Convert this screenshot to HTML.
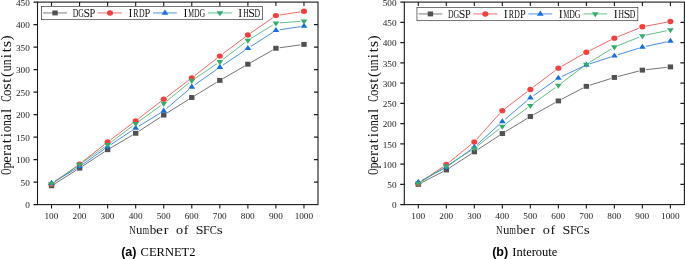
<!DOCTYPE html>
<html><head><meta charset="utf-8"><title>fig</title>
<style>html,body{margin:0;padding:0;background:#fff;}svg{display:block;will-change:transform;}</style></head>
<body>
<svg width="685" height="259" viewBox="0 0 685 259" font-family="Liberation Serif, serif">
<rect width="685" height="259" fill="#fff"/>
<path d="M54.66,183.82L76.44,170.12 M82.67,166.12L104.53,151.73 M110.82,147.83L132.48,135.14 M138.78,131.26L160.62,117.07 M166.86,113.09L188.64,99.46 M194.93,95.57L216.67,82.33 M223.03,78.55L244.67,66.05 M251.09,62.37L272.71,50.10 M279.59,47.76L300.31,44.91" fill="none" stroke="#515151" stroke-width="0.8"/>
<rect x="48.82" y="183.34" width="5.4" height="4.9" fill="#515151"/>
<rect x="76.87" y="165.70" width="5.4" height="4.9" fill="#515151"/>
<rect x="104.92" y="147.25" width="5.4" height="4.9" fill="#515151"/>
<rect x="132.98" y="130.82" width="5.4" height="4.9" fill="#515151"/>
<rect x="161.03" y="112.60" width="5.4" height="4.9" fill="#515151"/>
<rect x="189.08" y="95.05" width="5.4" height="4.9" fill="#515151"/>
<rect x="217.13" y="77.95" width="5.4" height="4.9" fill="#515151"/>
<rect x="245.18" y="61.75" width="5.4" height="4.9" fill="#515151"/>
<rect x="273.22" y="45.82" width="5.4" height="4.9" fill="#515151"/>
<rect x="301.27" y="41.95" width="5.4" height="4.9" fill="#515151"/>
<path d="M54.52,182.18L76.58,166.27 M82.48,161.81L104.72,144.34 M110.58,139.82L132.72,123.13 M138.61,118.64L160.79,101.56 M166.67,97.06L188.83,80.17 M194.70,75.65L216.90,58.37 M222.78,53.87L244.92,37.18 M250.92,32.85L272.88,17.70 M279.58,15.04L300.32,11.88" fill="none" stroke="#F14040" stroke-width="0.8"/>
<ellipse cx="51.52" cy="184.35" rx="3.05" ry="2.7" fill="#F14040"/>
<ellipse cx="79.57" cy="164.10" rx="3.05" ry="2.7" fill="#F14040"/>
<ellipse cx="107.62" cy="142.05" rx="3.05" ry="2.7" fill="#F14040"/>
<ellipse cx="135.68" cy="120.90" rx="3.05" ry="2.7" fill="#F14040"/>
<ellipse cx="163.73" cy="99.30" rx="3.05" ry="2.7" fill="#F14040"/>
<ellipse cx="191.78" cy="77.92" rx="3.05" ry="2.7" fill="#F14040"/>
<ellipse cx="219.83" cy="56.10" rx="3.05" ry="2.7" fill="#F14040"/>
<ellipse cx="247.88" cy="34.95" rx="3.05" ry="2.7" fill="#F14040"/>
<ellipse cx="275.92" cy="15.60" rx="3.05" ry="2.7" fill="#F14040"/>
<ellipse cx="303.97" cy="11.32" rx="3.05" ry="2.7" fill="#F14040"/>
<path d="M54.71,181.30L76.39,168.46 M82.60,164.44L104.60,148.91 M110.70,144.72L132.60,130.15 M138.83,126.17L160.57,112.93 M166.53,108.59L188.97,89.38 M194.80,84.84L216.80,69.35 M222.90,65.15L244.80,50.47 M250.99,46.40L272.81,32.36 M279.58,29.80L300.32,26.64" fill="none" stroke="#1A6FDF" stroke-width="0.8"/>
<polygon points="48.12,184.88 54.92,184.88 51.52,179.78" fill="#1A6FDF"/>
<polygon points="76.17,168.27 82.97,168.27 79.57,163.17" fill="#1A6FDF"/>
<polygon points="104.22,148.47 111.03,148.47 107.62,143.37" fill="#1A6FDF"/>
<polygon points="132.28,129.80 139.08,129.80 135.68,124.70" fill="#1A6FDF"/>
<polygon points="160.33,112.70 167.13,112.70 163.73,107.60" fill="#1A6FDF"/>
<polygon points="188.38,88.67 195.18,88.67 191.78,83.57" fill="#1A6FDF"/>
<polygon points="216.43,68.91 223.23,68.91 219.83,63.81" fill="#1A6FDF"/>
<polygon points="244.47,50.10 251.28,50.10 247.88,45.00" fill="#1A6FDF"/>
<polygon points="272.52,32.06 279.32,32.06 275.92,26.96" fill="#1A6FDF"/>
<polygon points="300.57,27.79 307.37,27.79 303.97,22.69" fill="#1A6FDF"/>
<path d="M54.58,181.59L76.52,166.63 M82.60,162.42L104.60,146.88 M110.58,142.52L132.72,125.83 M138.69,121.45L160.71,105.72 M166.59,101.23L188.91,82.97 M194.85,78.56L216.75,63.83 M222.77,59.52L244.93,42.60 M251.03,38.41L272.77,25.05 M279.62,22.85L300.28,21.40" fill="none" stroke="#37AD6B" stroke-width="0.8"/>
<polygon points="48.12,181.97 54.92,181.97 51.52,187.07" fill="#37AD6B"/>
<polygon points="76.17,162.85 82.97,162.85 79.57,167.95" fill="#37AD6B"/>
<polygon points="104.22,143.05 111.03,143.05 107.62,148.15" fill="#37AD6B"/>
<polygon points="132.28,121.90 139.08,121.90 135.68,127.00" fill="#37AD6B"/>
<polygon points="160.33,101.87 167.13,101.87 163.73,106.97" fill="#37AD6B"/>
<polygon points="188.38,78.92 195.18,78.92 191.78,84.02" fill="#37AD6B"/>
<polygon points="216.43,60.07 223.23,60.07 219.83,65.17" fill="#37AD6B"/>
<polygon points="244.47,38.65 251.28,38.65 247.88,43.75" fill="#37AD6B"/>
<polygon points="272.52,21.41 279.32,21.41 275.92,26.51" fill="#37AD6B"/>
<polygon points="300.57,19.43 307.37,19.43 303.97,24.53" fill="#37AD6B"/>
<rect x="37.5" y="2.1" width="280.5" height="202.5" fill="none" stroke="#1a1a1a" stroke-width="1.1"/>
<path d="M51.52,204.6v4.0 M51.52,2.1v4.0 M79.57,204.6v4.0 M79.57,2.1v4.0 M107.62,204.6v4.0 M107.62,2.1v4.0 M135.68,204.6v4.0 M135.68,2.1v4.0 M163.73,204.6v4.0 M163.73,2.1v4.0 M191.78,204.6v4.0 M191.78,2.1v4.0 M219.83,204.6v4.0 M219.83,2.1v4.0 M247.88,204.6v4.0 M247.88,2.1v4.0 M275.92,204.6v4.0 M275.92,2.1v4.0 M303.97,204.6v4.0 M303.97,2.1v4.0 M37.5,204.60h-4.0 M37.5,182.10h-4.0 M318.0,182.10h-4.0 M37.5,159.60h-4.0 M318.0,159.60h-4.0 M37.5,137.10h-4.0 M318.0,137.10h-4.0 M37.5,114.60h-4.0 M318.0,114.60h-4.0 M37.5,92.10h-4.0 M318.0,92.10h-4.0 M37.5,69.60h-4.0 M318.0,69.60h-4.0 M37.5,47.10h-4.0 M318.0,47.10h-4.0 M37.5,24.60h-4.0 M318.0,24.60h-4.0 M37.5,2.10h-4.0" stroke="#1a1a1a" stroke-width="1.1" fill="none"/>
<text transform="translate(51.42,219.15) scale(1,0.915)" text-anchor="middle" font-size="9.25" fill="#1a1a1a">100</text>
<text transform="translate(79.47,219.15) scale(1,0.915)" text-anchor="middle" font-size="9.25" fill="#1a1a1a">200</text>
<text transform="translate(107.53,219.15) scale(1,0.915)" text-anchor="middle" font-size="9.25" fill="#1a1a1a">300</text>
<text transform="translate(135.58,219.15) scale(1,0.915)" text-anchor="middle" font-size="9.25" fill="#1a1a1a">400</text>
<text transform="translate(163.63,219.15) scale(1,0.915)" text-anchor="middle" font-size="9.25" fill="#1a1a1a">500</text>
<text transform="translate(191.68,219.15) scale(1,0.915)" text-anchor="middle" font-size="9.25" fill="#1a1a1a">600</text>
<text transform="translate(219.73,219.15) scale(1,0.915)" text-anchor="middle" font-size="9.25" fill="#1a1a1a">700</text>
<text transform="translate(247.78,219.15) scale(1,0.915)" text-anchor="middle" font-size="9.25" fill="#1a1a1a">800</text>
<text transform="translate(275.82,219.15) scale(1,0.915)" text-anchor="middle" font-size="9.25" fill="#1a1a1a">900</text>
<text transform="translate(303.87,219.15) scale(1,0.915)" text-anchor="middle" font-size="9.25" fill="#1a1a1a">1000</text>
<text transform="translate(29.80,208.35) scale(1,0.915)" text-anchor="end" font-size="9.25" fill="#1a1a1a">0</text>
<text transform="translate(29.80,185.85) scale(1,0.915)" text-anchor="end" font-size="9.25" fill="#1a1a1a">50</text>
<text transform="translate(29.80,163.35) scale(1,0.915)" text-anchor="end" font-size="9.25" fill="#1a1a1a">100</text>
<text transform="translate(29.80,140.85) scale(1,0.915)" text-anchor="end" font-size="9.25" fill="#1a1a1a">150</text>
<text transform="translate(29.80,118.35) scale(1,0.915)" text-anchor="end" font-size="9.25" fill="#1a1a1a">200</text>
<text transform="translate(29.80,95.85) scale(1,0.915)" text-anchor="end" font-size="9.25" fill="#1a1a1a">250</text>
<text transform="translate(29.80,73.35) scale(1,0.915)" text-anchor="end" font-size="9.25" fill="#1a1a1a">300</text>
<text transform="translate(29.80,50.85) scale(1,0.915)" text-anchor="end" font-size="9.25" fill="#1a1a1a">350</text>
<text transform="translate(29.80,28.35) scale(1,0.915)" text-anchor="end" font-size="9.25" fill="#1a1a1a">400</text>
<text transform="translate(29.80,5.85) scale(1,0.915)" text-anchor="end" font-size="9.25" fill="#1a1a1a">450</text>
<text transform="translate(129.28,234.30) scale(0.698,1.000)" font-size="12.9" fill="#111">N</text>
<text transform="translate(136.09,234.30) scale(0.998,1.000)" font-size="12.9" fill="#111">u</text>
<text transform="translate(142.80,234.30) scale(0.632,1.000)" font-size="12.9" fill="#111">m</text>
<text transform="translate(149.70,234.30) scale(1.015,1.000)" font-size="12.9" fill="#111">b</text>
<text transform="translate(155.96,234.30) scale(1.200,1.000)" font-size="12.9" fill="#111">e</text>
<text transform="translate(163.71,234.30) scale(1.100,1.000)" font-size="12.9" fill="#111">r</text>
<text transform="translate(176.03,234.30) scale(1.106,1.000)" font-size="12.9" fill="#111">o</text>
<text transform="translate(183.74,234.30) scale(1.100,1.000)" font-size="12.9" fill="#111">f</text>
<text transform="translate(195.81,234.30) scale(1.093,1.000)" font-size="12.9" fill="#111">S</text>
<text transform="translate(203.11,234.30) scale(0.951,1.000)" font-size="12.9" fill="#111">F</text>
<text transform="translate(209.74,234.30) scale(0.821,1.000)" font-size="12.9" fill="#111">C</text>
<text transform="translate(216.86,234.30) scale(1.200,1.000)" font-size="12.9" fill="#111">s</text>
<g transform="translate(11.0,174.6) rotate(-90)">
<text transform="translate(-0.05,0.00) scale(0.618,1.000)" font-size="13.8" fill="#111">O</text>
<text transform="translate(6.18,0.00) scale(0.890,1.000)" font-size="13.8" fill="#111">p</text>
<text transform="translate(11.87,0.00) scale(1.067,1.000)" font-size="13.8" fill="#111">e</text>
<text transform="translate(18.63,0.00) scale(1.100,1.000)" font-size="13.8" fill="#111">r</text>
<text transform="translate(24.10,0.00) scale(1.000,1.000)" font-size="13.8" fill="#111">a</text>
<text transform="translate(31.25,0.00) scale(1.100,1.000)" font-size="13.8" fill="#111">t</text>
<text transform="translate(37.33,0.00) scale(1.100,1.000)" font-size="13.8" fill="#111">i</text>
<text transform="translate(42.30,0.00) scale(0.934,1.000)" font-size="13.8" fill="#111">o</text>
<text transform="translate(48.60,0.00) scale(0.855,1.000)" font-size="13.8" fill="#111">n</text>
<text transform="translate(54.45,0.00) scale(1.000,1.000)" font-size="13.8" fill="#111">a</text>
<text transform="translate(61.62,0.00) scale(1.100,1.000)" font-size="13.8" fill="#111">l</text>
<text transform="translate(72.75,0.00) scale(0.693,1.000)" font-size="13.8" fill="#111">C</text>
<text transform="translate(78.72,0.00) scale(0.934,1.000)" font-size="13.8" fill="#111">o</text>
<text transform="translate(84.74,0.00) scale(1.200,1.000)" font-size="13.8" fill="#111">s</text>
<text transform="translate(91.95,0.00) scale(1.100,1.000)" font-size="13.8" fill="#111">t</text>
<text transform="translate(97.54,0.00) scale(1.100,1.000)" font-size="13.8" fill="#111">(</text>
<text transform="translate(103.34,0.00) scale(0.842,1.000)" font-size="13.8" fill="#111">u</text>
<text transform="translate(109.30,0.00) scale(0.855,1.000)" font-size="13.8" fill="#111">n</text>
<text transform="translate(116.24,0.00) scale(1.100,1.000)" font-size="13.8" fill="#111">i</text>
<text transform="translate(122.30,0.00) scale(1.100,1.000)" font-size="13.8" fill="#111">t</text>
<text transform="translate(127.23,0.00) scale(1.200,1.000)" font-size="13.8" fill="#111">s</text>
<text transform="translate(134.13,0.00) scale(1.100,1.000)" font-size="13.8" fill="#111">)</text>
</g>
<rect x="41.60" y="6.40" width="220.9" height="13.3" fill="#fff" stroke="#2a2a2a" stroke-width="0.65"/>
<path d="M43.15,12.95H66.95" stroke="#515151" stroke-width="0.75"/>
<rect x="52.35" y="10.50" width="5.4" height="4.9" fill="#515151"/>
<text transform="translate(72.72,16.90) scale(0.664,1.000)" font-size="11.7" fill="#111">D</text>
<text transform="translate(78.26,16.90) scale(0.669,1.000)" font-size="11.7" fill="#111">G</text>
<text transform="translate(83.45,16.90) scale(1.013,1.000)" font-size="11.7" fill="#111">S</text>
<text transform="translate(89.59,16.90) scale(0.889,1.000)" font-size="11.7" fill="#111">P</text>
<path d="M98.10,12.95H121.90" stroke="#F14040" stroke-width="0.75"/>
<ellipse cx="110.00" cy="12.95" rx="3.05" ry="2.7" fill="#F14040"/>
<text transform="translate(128.47,16.90) scale(1.000,1.000)" font-size="11.7" fill="#111">I</text>
<text transform="translate(133.31,16.90) scale(0.681,1.000)" font-size="11.7" fill="#111">R</text>
<text transform="translate(138.97,16.90) scale(0.664,1.000)" font-size="11.7" fill="#111">D</text>
<text transform="translate(144.54,16.90) scale(0.889,1.000)" font-size="11.7" fill="#111">P</text>
<path d="M153.05,12.95H176.85" stroke="#1A6FDF" stroke-width="0.75"/>
<polygon points="161.55,14.65 168.35,14.65 164.95,9.55" fill="#1A6FDF"/>
<text transform="translate(183.42,16.90) scale(1.000,1.000)" font-size="11.7" fill="#111">I</text>
<text transform="translate(188.17,16.90) scale(0.550,1.000)" font-size="11.7" fill="#111">M</text>
<text transform="translate(193.92,16.90) scale(0.664,1.000)" font-size="11.7" fill="#111">D</text>
<text transform="translate(199.46,16.90) scale(0.669,1.000)" font-size="11.7" fill="#111">G</text>
<path d="M208.00,12.95H231.80" stroke="#37AD6B" stroke-width="0.75"/>
<polygon points="216.50,11.25 223.30,11.25 219.90,16.35" fill="#37AD6B"/>
<text transform="translate(238.37,16.90) scale(1.000,1.000)" font-size="11.7" fill="#111">I</text>
<text transform="translate(243.22,16.90) scale(0.654,1.000)" font-size="11.7" fill="#111">H</text>
<text transform="translate(248.30,16.90) scale(1.013,1.000)" font-size="11.7" fill="#111">S</text>
<text transform="translate(254.52,16.90) scale(0.664,1.000)" font-size="11.7" fill="#111">D</text>
<path d="M421.60,182.66L443.02,171.66 M449.42,167.96L471.22,153.88 M477.42,149.84L499.24,135.55 M505.50,131.60L527.18,118.43 M533.58,114.71L555.12,102.72 M561.64,99.21L583.08,88.05 M589.89,85.22L610.85,78.55 M617.96,76.50L638.80,71.07 M646.06,69.71L666.72,67.33" fill="none" stroke="#515151" stroke-width="0.8"/>
<rect x="415.61" y="181.90" width="5.4" height="4.9" fill="#515151"/>
<rect x="443.62" y="167.52" width="5.4" height="4.9" fill="#515151"/>
<rect x="471.62" y="149.42" width="5.4" height="4.9" fill="#515151"/>
<rect x="499.63" y="131.07" width="5.4" height="4.9" fill="#515151"/>
<rect x="527.64" y="114.06" width="5.4" height="4.9" fill="#515151"/>
<rect x="555.65" y="98.47" width="5.4" height="4.9" fill="#515151"/>
<rect x="583.66" y="83.89" width="5.4" height="4.9" fill="#515151"/>
<rect x="611.67" y="74.98" width="5.4" height="4.9" fill="#515151"/>
<rect x="639.68" y="67.69" width="5.4" height="4.9" fill="#515151"/>
<rect x="667.69" y="64.45" width="5.4" height="4.9" fill="#515151"/>
<path d="M421.37,181.46L443.25,166.58 M449.19,162.18L471.45,144.23 M476.79,139.15L499.87,113.40 M505.28,108.40L527.40,91.61 M533.29,87.14L555.41,70.39 M561.58,66.33L583.14,54.14 M589.67,50.65L611.07,39.82 M617.80,36.76L638.96,28.19 M646.02,26.12L666.76,22.22" fill="none" stroke="#F14040" stroke-width="0.8"/>
<ellipse cx="418.31" cy="183.54" rx="3.05" ry="2.7" fill="#F14040"/>
<ellipse cx="446.31" cy="164.50" rx="3.05" ry="2.7" fill="#F14040"/>
<ellipse cx="474.32" cy="141.91" rx="3.05" ry="2.7" fill="#F14040"/>
<ellipse cx="502.33" cy="110.64" rx="3.05" ry="2.7" fill="#F14040"/>
<ellipse cx="530.35" cy="89.38" rx="3.05" ry="2.7" fill="#F14040"/>
<ellipse cx="558.36" cy="68.16" rx="3.05" ry="2.7" fill="#F14040"/>
<ellipse cx="586.37" cy="52.32" rx="3.05" ry="2.7" fill="#F14040"/>
<ellipse cx="614.38" cy="38.14" rx="3.05" ry="2.7" fill="#F14040"/>
<ellipse cx="642.38" cy="26.80" rx="3.05" ry="2.7" fill="#F14040"/>
<ellipse cx="670.39" cy="21.54" rx="3.05" ry="2.7" fill="#F14040"/>
<path d="M421.57,180.51L443.05,169.08 M449.31,165.17L471.33,149.22 M477.07,144.56L499.59,124.14 M505.16,119.26L527.52,100.28 M533.37,95.75L555.33,80.21 M561.71,76.51L583.01,66.53 M589.88,63.81L610.86,56.99 M617.91,54.75L638.85,48.23 M646.00,46.35L666.78,41.85" fill="none" stroke="#1A6FDF" stroke-width="0.8"/>
<polygon points="414.91,183.94 421.70,183.94 418.31,178.84" fill="#1A6FDF"/>
<polygon points="442.92,169.04 449.71,169.04 446.31,163.94" fill="#1A6FDF"/>
<polygon points="470.93,148.75 477.72,148.75 474.32,143.65" fill="#1A6FDF"/>
<polygon points="498.94,123.36 505.73,123.36 502.33,118.26" fill="#1A6FDF"/>
<polygon points="526.95,99.58 533.75,99.58 530.35,94.48" fill="#1A6FDF"/>
<polygon points="554.96,79.78 561.75,79.78 558.36,74.68" fill="#1A6FDF"/>
<polygon points="582.97,66.66 589.76,66.66 586.37,61.56" fill="#1A6FDF"/>
<polygon points="610.98,57.54 617.77,57.54 614.38,52.44" fill="#1A6FDF"/>
<polygon points="638.99,48.84 645.78,48.84 642.38,43.74" fill="#1A6FDF"/>
<polygon points="667.00,42.76 673.79,42.76 670.39,37.66" fill="#1A6FDF"/>
<path d="M421.45,181.47L443.17,167.99 M449.45,164.08L471.19,150.43 M477.23,146.17L499.43,128.65 M505.31,124.16L527.37,107.86 M533.34,103.49L555.36,87.54 M561.31,83.15L583.41,66.57 M589.51,62.40L611.23,48.96 M617.81,45.65L638.95,37.24 M646.00,35.11L666.78,30.69" fill="none" stroke="#37AD6B" stroke-width="0.8"/>
<polygon points="414.91,181.72 421.70,181.72 418.31,186.82" fill="#37AD6B"/>
<polygon points="442.92,164.34 449.71,164.34 446.31,169.44" fill="#37AD6B"/>
<polygon points="470.93,146.77 477.72,146.77 474.32,151.87" fill="#37AD6B"/>
<polygon points="498.94,124.65 505.73,124.65 502.33,129.75" fill="#37AD6B"/>
<polygon points="526.95,103.96 533.75,103.96 530.35,109.06" fill="#37AD6B"/>
<polygon points="554.96,83.67 561.75,83.67 558.36,88.77" fill="#37AD6B"/>
<polygon points="582.97,62.65 589.76,62.65 586.37,67.75" fill="#37AD6B"/>
<polygon points="610.98,45.31 617.77,45.31 614.38,50.41" fill="#37AD6B"/>
<polygon points="638.99,34.18 645.78,34.18 642.38,39.28" fill="#37AD6B"/>
<polygon points="667.00,28.22 673.79,28.22 670.39,33.32" fill="#37AD6B"/>
<rect x="404.3" y="2.1" width="280.09999999999997" height="202.5" fill="none" stroke="#1a1a1a" stroke-width="1.1"/>
<path d="M418.31,204.6v4.0 M418.31,2.1v4.0 M446.31,204.6v4.0 M446.31,2.1v4.0 M474.32,204.6v4.0 M474.32,2.1v4.0 M502.33,204.6v4.0 M502.33,2.1v4.0 M530.35,204.6v4.0 M530.35,2.1v4.0 M558.36,204.6v4.0 M558.36,2.1v4.0 M586.37,204.6v4.0 M586.37,2.1v4.0 M614.38,204.6v4.0 M614.38,2.1v4.0 M642.38,204.6v4.0 M642.38,2.1v4.0 M670.39,204.6v4.0 M670.39,2.1v4.0 M404.3,204.60h-4.0 M404.3,184.35h-4.0 M684.4,184.35h-4.0 M404.3,164.10h-4.0 M684.4,164.10h-4.0 M404.3,143.85h-4.0 M684.4,143.85h-4.0 M404.3,123.60h-4.0 M684.4,123.60h-4.0 M404.3,103.35h-4.0 M684.4,103.35h-4.0 M404.3,83.10h-4.0 M684.4,83.10h-4.0 M404.3,62.85h-4.0 M684.4,62.85h-4.0 M404.3,42.60h-4.0 M684.4,42.60h-4.0 M404.3,22.35h-4.0 M684.4,22.35h-4.0 M404.3,2.10h-4.0" stroke="#1a1a1a" stroke-width="1.1" fill="none"/>
<text transform="translate(418.20,219.15) scale(1,0.915)" text-anchor="middle" font-size="9.25" fill="#1a1a1a">100</text>
<text transform="translate(446.21,219.15) scale(1,0.915)" text-anchor="middle" font-size="9.25" fill="#1a1a1a">200</text>
<text transform="translate(474.22,219.15) scale(1,0.915)" text-anchor="middle" font-size="9.25" fill="#1a1a1a">300</text>
<text transform="translate(502.23,219.15) scale(1,0.915)" text-anchor="middle" font-size="9.25" fill="#1a1a1a">400</text>
<text transform="translate(530.25,219.15) scale(1,0.915)" text-anchor="middle" font-size="9.25" fill="#1a1a1a">500</text>
<text transform="translate(558.25,219.15) scale(1,0.915)" text-anchor="middle" font-size="9.25" fill="#1a1a1a">600</text>
<text transform="translate(586.26,219.15) scale(1,0.915)" text-anchor="middle" font-size="9.25" fill="#1a1a1a">700</text>
<text transform="translate(614.27,219.15) scale(1,0.915)" text-anchor="middle" font-size="9.25" fill="#1a1a1a">800</text>
<text transform="translate(642.28,219.15) scale(1,0.915)" text-anchor="middle" font-size="9.25" fill="#1a1a1a">900</text>
<text transform="translate(670.29,219.15) scale(1,0.915)" text-anchor="middle" font-size="9.25" fill="#1a1a1a">1000</text>
<text transform="translate(396.60,208.35) scale(1,0.915)" text-anchor="end" font-size="9.25" fill="#1a1a1a">0</text>
<text transform="translate(396.60,188.10) scale(1,0.915)" text-anchor="end" font-size="9.25" fill="#1a1a1a">50</text>
<text transform="translate(396.60,167.85) scale(1,0.915)" text-anchor="end" font-size="9.25" fill="#1a1a1a">100</text>
<text transform="translate(396.60,147.60) scale(1,0.915)" text-anchor="end" font-size="9.25" fill="#1a1a1a">150</text>
<text transform="translate(396.60,127.35) scale(1,0.915)" text-anchor="end" font-size="9.25" fill="#1a1a1a">200</text>
<text transform="translate(396.60,107.10) scale(1,0.915)" text-anchor="end" font-size="9.25" fill="#1a1a1a">250</text>
<text transform="translate(396.60,86.85) scale(1,0.915)" text-anchor="end" font-size="9.25" fill="#1a1a1a">300</text>
<text transform="translate(396.60,66.60) scale(1,0.915)" text-anchor="end" font-size="9.25" fill="#1a1a1a">350</text>
<text transform="translate(396.60,46.35) scale(1,0.915)" text-anchor="end" font-size="9.25" fill="#1a1a1a">400</text>
<text transform="translate(396.60,26.10) scale(1,0.915)" text-anchor="end" font-size="9.25" fill="#1a1a1a">450</text>
<text transform="translate(396.60,5.85) scale(1,0.915)" text-anchor="end" font-size="9.25" fill="#1a1a1a">500</text>
<text transform="translate(496.08,234.30) scale(0.698,1.000)" font-size="12.9" fill="#111">N</text>
<text transform="translate(502.89,234.30) scale(0.998,1.000)" font-size="12.9" fill="#111">u</text>
<text transform="translate(509.60,234.30) scale(0.632,1.000)" font-size="12.9" fill="#111">m</text>
<text transform="translate(516.50,234.30) scale(1.015,1.000)" font-size="12.9" fill="#111">b</text>
<text transform="translate(522.76,234.30) scale(1.200,1.000)" font-size="12.9" fill="#111">e</text>
<text transform="translate(530.51,234.30) scale(1.100,1.000)" font-size="12.9" fill="#111">r</text>
<text transform="translate(542.83,234.30) scale(1.106,1.000)" font-size="12.9" fill="#111">o</text>
<text transform="translate(550.54,234.30) scale(1.100,1.000)" font-size="12.9" fill="#111">f</text>
<text transform="translate(562.61,234.30) scale(1.093,1.000)" font-size="12.9" fill="#111">S</text>
<text transform="translate(569.91,234.30) scale(0.951,1.000)" font-size="12.9" fill="#111">F</text>
<text transform="translate(576.54,234.30) scale(0.821,1.000)" font-size="12.9" fill="#111">C</text>
<text transform="translate(583.66,234.30) scale(1.200,1.000)" font-size="12.9" fill="#111">s</text>
<g transform="translate(378.0,174.6) rotate(-90)">
<text transform="translate(-0.05,0.00) scale(0.618,1.000)" font-size="13.8" fill="#111">O</text>
<text transform="translate(6.18,0.00) scale(0.890,1.000)" font-size="13.8" fill="#111">p</text>
<text transform="translate(11.87,0.00) scale(1.067,1.000)" font-size="13.8" fill="#111">e</text>
<text transform="translate(18.63,0.00) scale(1.100,1.000)" font-size="13.8" fill="#111">r</text>
<text transform="translate(24.10,0.00) scale(1.000,1.000)" font-size="13.8" fill="#111">a</text>
<text transform="translate(31.25,0.00) scale(1.100,1.000)" font-size="13.8" fill="#111">t</text>
<text transform="translate(37.33,0.00) scale(1.100,1.000)" font-size="13.8" fill="#111">i</text>
<text transform="translate(42.30,0.00) scale(0.934,1.000)" font-size="13.8" fill="#111">o</text>
<text transform="translate(48.60,0.00) scale(0.855,1.000)" font-size="13.8" fill="#111">n</text>
<text transform="translate(54.45,0.00) scale(1.000,1.000)" font-size="13.8" fill="#111">a</text>
<text transform="translate(61.62,0.00) scale(1.100,1.000)" font-size="13.8" fill="#111">l</text>
<text transform="translate(72.75,0.00) scale(0.693,1.000)" font-size="13.8" fill="#111">C</text>
<text transform="translate(78.72,0.00) scale(0.934,1.000)" font-size="13.8" fill="#111">o</text>
<text transform="translate(84.74,0.00) scale(1.200,1.000)" font-size="13.8" fill="#111">s</text>
<text transform="translate(91.95,0.00) scale(1.100,1.000)" font-size="13.8" fill="#111">t</text>
<text transform="translate(97.54,0.00) scale(1.100,1.000)" font-size="13.8" fill="#111">(</text>
<text transform="translate(103.34,0.00) scale(0.842,1.000)" font-size="13.8" fill="#111">u</text>
<text transform="translate(109.30,0.00) scale(0.855,1.000)" font-size="13.8" fill="#111">n</text>
<text transform="translate(116.24,0.00) scale(1.100,1.000)" font-size="13.8" fill="#111">i</text>
<text transform="translate(122.30,0.00) scale(1.100,1.000)" font-size="13.8" fill="#111">t</text>
<text transform="translate(127.23,0.00) scale(1.200,1.000)" font-size="13.8" fill="#111">s</text>
<text transform="translate(134.13,0.00) scale(1.100,1.000)" font-size="13.8" fill="#111">)</text>
</g>
<rect x="416.95" y="7.40" width="220.9" height="13.3" fill="#fff" stroke="#2a2a2a" stroke-width="0.65"/>
<path d="M418.50,13.95H442.30" stroke="#515151" stroke-width="0.75"/>
<rect x="427.70" y="11.50" width="5.4" height="4.9" fill="#515151"/>
<text transform="translate(448.07,17.90) scale(0.664,1.000)" font-size="11.7" fill="#111">D</text>
<text transform="translate(453.61,17.90) scale(0.669,1.000)" font-size="11.7" fill="#111">G</text>
<text transform="translate(458.80,17.90) scale(1.013,1.000)" font-size="11.7" fill="#111">S</text>
<text transform="translate(464.94,17.90) scale(0.889,1.000)" font-size="11.7" fill="#111">P</text>
<path d="M473.45,13.95H497.25" stroke="#F14040" stroke-width="0.75"/>
<ellipse cx="485.35" cy="13.95" rx="3.05" ry="2.7" fill="#F14040"/>
<text transform="translate(503.82,17.90) scale(1.000,1.000)" font-size="11.7" fill="#111">I</text>
<text transform="translate(508.66,17.90) scale(0.681,1.000)" font-size="11.7" fill="#111">R</text>
<text transform="translate(514.32,17.90) scale(0.664,1.000)" font-size="11.7" fill="#111">D</text>
<text transform="translate(519.89,17.90) scale(0.889,1.000)" font-size="11.7" fill="#111">P</text>
<path d="M528.40,13.95H552.20" stroke="#1A6FDF" stroke-width="0.75"/>
<polygon points="536.90,15.65 543.70,15.65 540.30,10.55" fill="#1A6FDF"/>
<text transform="translate(558.77,17.90) scale(1.000,1.000)" font-size="11.7" fill="#111">I</text>
<text transform="translate(563.52,17.90) scale(0.550,1.000)" font-size="11.7" fill="#111">M</text>
<text transform="translate(569.27,17.90) scale(0.664,1.000)" font-size="11.7" fill="#111">D</text>
<text transform="translate(574.81,17.90) scale(0.669,1.000)" font-size="11.7" fill="#111">G</text>
<path d="M583.35,13.95H607.15" stroke="#37AD6B" stroke-width="0.75"/>
<polygon points="591.85,12.25 598.65,12.25 595.25,17.35" fill="#37AD6B"/>
<text transform="translate(613.72,17.90) scale(1.000,1.000)" font-size="11.7" fill="#111">I</text>
<text transform="translate(618.57,17.90) scale(0.654,1.000)" font-size="11.7" fill="#111">H</text>
<text transform="translate(623.65,17.90) scale(1.013,1.000)" font-size="11.7" fill="#111">S</text>
<text transform="translate(629.87,17.90) scale(0.664,1.000)" font-size="11.7" fill="#111">D</text>
<text x="121.2" y="256.2" font-size="12.5" fill="#000"><tspan font-family="Liberation Sans, sans-serif" font-weight="bold">(a)</tspan><tspan font-family="Liberation Serif, serif" dx="4.1">CERNET2</tspan></text>
<text x="492.2" y="256.2" font-size="12.5" fill="#000"><tspan font-family="Liberation Sans, sans-serif" font-weight="bold">(b)</tspan><tspan font-family="Liberation Serif, serif" dx="4.1">Interoute</tspan></text>
</svg>
</body></html>
